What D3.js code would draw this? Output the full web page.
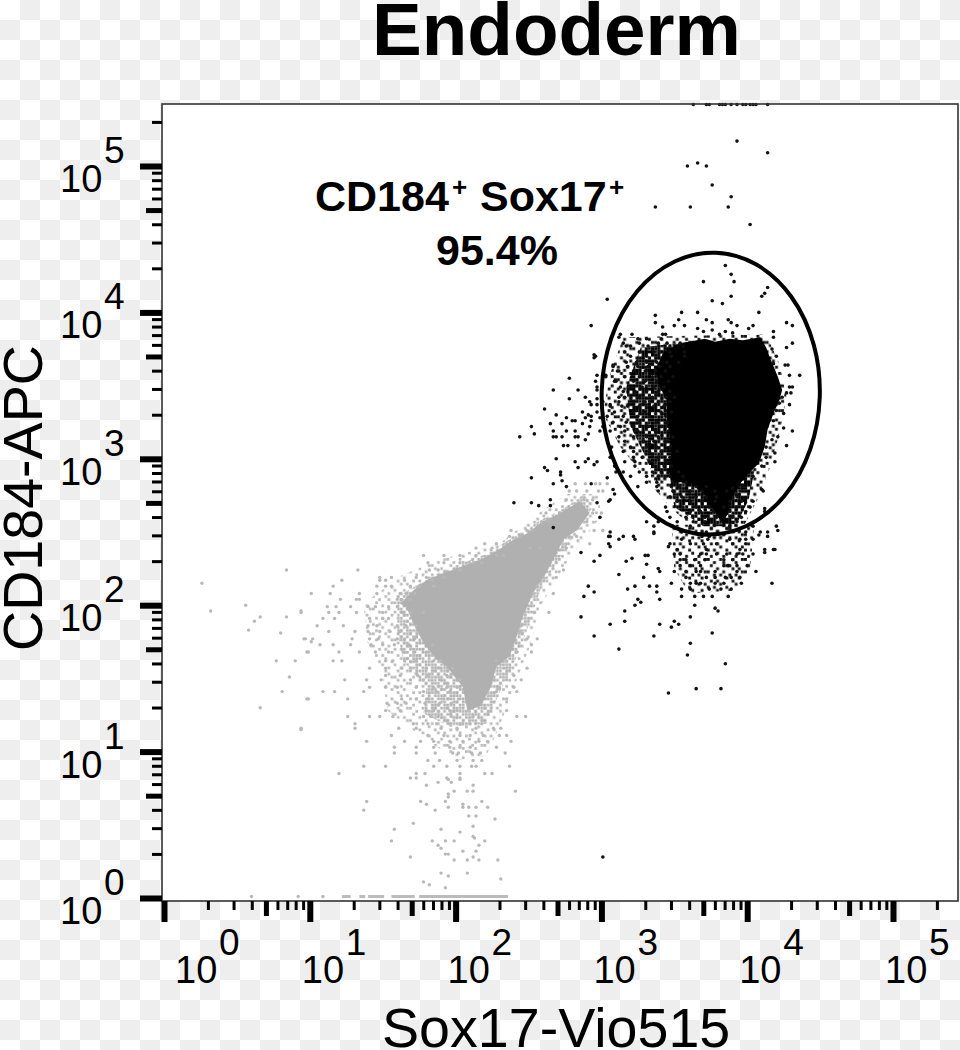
<!DOCTYPE html>
<html>
<head>
<meta charset="utf-8">
<script src="https://d3js.org/d3.v7.min.js"></script>
<style>
  html, body { margin: 0; padding: 0; background: #fff; }
  svg { display: block; }
  text { font-family: "Liberation Sans", Arial, sans-serif; fill: #000; }
</style>
</head>
<body>
<div id="plot"></div>
<script>
// All events are log10(fluorescence).
// Rows are [log10 CD184, [log10 Sox17, ...]]

var blackRows = [
  [5.42, [3.63,3.72,3.74,3.81,3.83,3.85,3.89,3.93,3.97,3.99,4.02,4.04,4.06,4.14]],
  [5.17, [3.93]], [5.09, [4.14]], [5.02, [3.66]], [5.00, [3.59,3.72]],
  [4.87, [3.76]], [4.79, [3.89]], [4.72, [3.37,3.61,3.87]], [4.60, [4.02]],
  [4.32, [3.85]], [4.26, [3.89]], [4.21, [3.70,3.91]], [4.17, [4.14]], [4.13, [4.12]],
  [4.11, [3.89,4.10]], [4.09, [3.04]], [4.08, [3.76]], [4.06, [3.83]],
  [4.00, [3.55,3.66,4.08]], [3.98, [3.37]], [3.95, [3.53,3.72,3.87]],
  [3.93, [3.37,3.76,3.89,4.27]], [3.91, [2.93,3.50,3.57,3.93,4.04,4.31]],
  [3.90, [3.42]], [3.89, [3.66,4.01]], [3.88, [3.76]], [3.87, [3.70,3.85,4.18]],
  [3.86, [3.90]], [3.85, [3.13,3.21,3.42,3.44,3.81]], [3.83, [3.12,4.18]],
  [3.82, [3.25,3.31,3.41]], [3.79, [3.15,3.26,3.39,3.45,3.54,4.31]],
  [3.77, [3.17,3.20,3.32,3.47,3.56]], [3.76, [4.27]], [3.75, [4.17]],
  [3.73, [3.16,3.26,3.36,3.40,3.47,3.57]], [3.71, [2.95]],
  [3.70, [2.96,3.20,3.31,3.48,3.57,4.20]], [3.69, [2.95]],
  [3.66, [3.17,3.24,3.31,3.38,3.45,3.53]], [3.65, [4.18]],
  [3.64, [3.08,4.26,4.28]], [3.63, [3.08,3.18,3.25,3.32,3.40,3.47]],
  [3.60, [3.11,3.12,3.22,3.30,3.37,3.44]], [3.57, [2.97,3.03,4.29,4.36]],
  [3.56, [3.03,3.16,3.26,3.35,3.41,3.49]], [3.55, [2.78]],
  [3.53, [2.96,3.09,3.10,3.22,3.30,3.38,3.46]],
  [3.49, [2.97,3.13,3.21,3.28,3.36,3.43,4.29,4.31]],
  [3.47, [2.67,2.84,2.97]], [3.46, [3.15,3.23,3.31,3.39,3.47]], [3.45, [4.27,4.30]],
  [3.42, [2.89,3.12,3.16,3.26,3.35,3.44,3.50,4.24]], [3.41, [2.78,2.97]],
  [3.39, [2.92,3.01,3.12,3.22,3.30,3.39,3.47]], [3.38, [4.22]], [3.37, [2.93,2.97,3.06,4.29]],
  [3.36, [3.06,3.14,3.18,3.26,3.36,3.43]], [3.34, [2.61]], [3.33, [4.20]],
  [3.32, [2.87,2.97,3.09,3.22,3.30,3.41,3.48]], [3.31, [4.25]],
  [3.30, [2.69,2.91]], [3.29, [2.93,3.04,3.15,3.25,3.33,3.44]], [3.28, [2.76,2.89,2.99]],
  [3.26, [2.80,2.82,2.93,4.18]], [3.25, [3.08,3.17,3.26,3.38,3.45]],
  [3.24, [2.65,2.73,2.87]], [3.22, [2.52,2.92,3.01,3.13,3.22,3.32,3.41]], [3.21, [4.25]],
  [3.19, [2.67,2.76,2.82,2.99,3.06,3.16,3.25,3.37,3.46,4.31]],
  [3.17, [2.54,2.91]], [3.15, [2.44,2.67,2.69,2.73,2.82,2.84,3.12,3.22,3.31,3.39,3.49,4.21]],
  [3.13, [2.89,4.17]], [3.12, [3.16,3.29,3.36,3.44]],
  [3.09, [2.74,2.77,2.84,4.27]], [3.08, [3.07,3.20,3.31,3.38,3.47,4.13]],
  [3.05, [3.15,3.22,3.33,3.41,3.52]], [3.04, [4.19]],
  [3.01, [3.06,3.22,3.28,3.39,3.47,4.13]], [3.00, [2.69,2.91]],
  [2.98, [2.82,2.89,2.97,3.16,3.23,3.33,3.44,4.19]], [2.96, [2.95]],
  [2.95, [3.09,3.23,3.36,3.43,3.48,4.10]], [2.94, [2.61,2.84]], [2.92, [2.63]],
  [2.91, [2.72,3.10,3.15,3.26,3.35,3.41,3.53]], [2.89, [2.72]],
  [2.88, [3.20,3.31,3.39,3.47,3.56,4.04]], [2.87, [2.52,3.04]], [2.85, [2.73]],
  [2.84, [3.31,3.38,3.49,3.58]], [2.83, [2.67,2.93]],
  [2.81, [2.76,3.25,3.38,3.48,3.53,3.65,3.72,3.97]], [2.80, [3.90]], [2.79, [3.08,4.10]],
  [2.78, [3.39,3.49,3.61,3.69,3.78,3.86,3.95,4.11]], [2.76, [3.09]], [2.75, [3.93]],
  [2.74, [3.47,3.55,3.65,3.72,3.79,3.93]], [2.72, [2.65,3.06]], [2.71, [3.05,3.52,3.61,3.69,3.78,3.88,3.96,4.04]],
  [2.70, [2.40,2.52,2.97]], [2.68, [2.57,2.65]],
  [2.67, [3.44,3.56,3.65,3.74,3.84,3.93,4.02]], [2.66, [4.12]],
  [2.64, [3.45,3.61,3.68,3.77,3.88,3.99,4.12]], [2.60, [2.99,3.47,3.58,3.71,3.79,3.90,3.96]],
  [2.57, [3.31,3.39,3.52,3.63,3.71,3.93]], [2.54, [3.36,3.49,3.61,3.88,4.04,4.20]],
  [2.53, [2.67]], [2.51, [4.21]], [2.50, [3.06,3.36,3.55,3.72,3.99,4.09,4.14]],
  [2.49, [3.36]], [2.48, [4.08]], [2.47, [3.05,3.06,3.15,3.22,3.69,3.74,4.14]],
  [2.45, [3.12,3.23,3.55,3.73,3.88,3.95,3.99,4.04]], [2.42, [3.05,3.47,3.61,3.70,3.79,3.90,3.99]],
  [2.40, [3.06,3.46]], [2.38, [3.52,3.72,3.95,4.12,4.18,4.19]], [2.36, [2.86,4.12]],
  [2.35, [3.50,3.54,3.68,3.72,3.79,3.86,3.93,3.97,4.04]], [2.34, [2.99,3.30,3.32]],
  [2.32, [3.21]], [2.31, [3.54,3.58,3.64,3.71,3.84,3.90]], [2.30, [2.95,3.17]], [2.28, [3.31]],
  [2.27, [3.54,3.61,3.68,3.84,3.87,3.93,4.00]], [2.25, [3.39]],
  [2.23, [3.40,3.50,3.58,3.65,3.68,3.78,3.93,4.06]], [2.21, [3.12]],
  [2.19, [3.29,3.58,3.72,3.78,3.85,3.89,3.95]], [2.15, [3.48,3.61,3.65,3.68,3.78,3.84,3.96,4.17]],
  [2.13, [2.91,3.23,3.33,3.38]], [2.11, [3.18,3.55,3.61,3.74,3.82,3.89]], [2.09, [2.95,3.38]],
  [2.06, [2.88,3.55,3.64,3.70,3.76,3.87]], [2.04, [3.25,3.40]], [2.02, [3.27]],
  [2.00, [3.23,3.64]], [1.98, [3.78]], [1.96, [3.16,3.80]], [1.92, [2.86,3.61]],
  [1.89, [3.16,3.50]], [1.87, [3.06,3.40,3.53]], [1.85, [3.48]], [1.81, [3.76]],
  [1.79, [2.95,3.36]], [1.74, [3.61]], [1.70, [3.12]], [1.66, [3.59]], [1.60, [3.85]],
  [1.43, [3.65,3.82]], [1.40, [3.46]], [0.28, [3.01]]
];

var greyRows = [
  [2.83, [2.82,2.89,2.96,2.99,3.04]], [2.78, [2.78,2.83,2.90,2.98,3.01]],
  [2.72, [2.76,2.88,2.94]], [2.63, [2.62,2.94,3.00]], [2.57, [2.59,2.64,2.90]],
  [2.51, [2.38,2.49,2.53,2.95,3.01]], [2.47, [2.37,2.44,2.78,2.83]],
  [2.42, [2.20,2.28,2.92]], [2.39, [2.14,2.25,2.51,2.58,2.76]],
  [2.34, [1.78,1.92,2.03,2.14,2.28,2.33]], [2.29, [1.81,1.92,2.03,2.12,2.18,2.69]],
  [2.24, [0.84,1.33,1.82,1.88,2.03,2.74]], [2.19, [1.48,1.56,1.73,1.80,1.92,2.69]],
  [2.17, [1.22,1.48,1.52,1.65,1.84]], [2.15, [0.26]], [2.13, [1.16,1.46,1.52,1.56,1.69,1.75,1.85,2.56]],
  [2.08, [1.01,1.14,1.34,1.46,1.62,1.66,1.72,2.53,2.67]], [2.04, [1.21,1.32,1.34,1.60,1.63,1.69]],
  [2.00, [0.56]], [1.99, [1.12,1.18,1.28,1.40,1.45,1.54,1.60]], [1.96, [0.32,0.94]],
  [1.95, [0.94,1.13,1.20,1.32,1.50,1.64,1.69,1.78,2.54,2.64]],
  [1.92, [0.66,0.84]], [1.91, [1.09,1.17,1.41,1.50,1.54]], [1.89, [0.62]],
  [1.86, [1.05,1.23,1.40,1.46,1.60,1.66,1.73,2.45]], [1.83, [0.58]],
  [1.82, [1.13,1.31,1.40,1.48,1.55,1.62,2.44]], [1.81, [0.80]],
  [1.77, [0.96,0.97,1.02,1.29,1.41,1.47,1.60,1.65,1.72,2.49,2.56]], [1.75, [1.01]],
  [1.73, [1.07,1.16,1.28,1.42,1.50,1.58,1.68,1.84,2.52]],
  [1.68, [0.98,0.99,1.20,1.34,1.45,1.54,1.64,1.72,1.80,2.42,2.52]],
  [1.62, [0.77,0.90,1.16,1.22,1.52,1.57,1.65,1.73,1.85,1.90,2.28,2.35]],
  [1.57, [1.41,1.52,1.63,1.69,1.80,1.90,1.98,2.33,2.49]],
  [1.52, [1.52,1.62,1.74,1.81,1.94,2.40]], [1.51, [0.86]],
  [1.49, [1.24,1.39,1.49,1.69,1.78,1.89,2.03,2.35,2.45]],
  [1.44, [1.41,1.52,1.60,1.73,1.85,1.94,2.01,2.30,2.40]],
  [1.41, [0.81,1.09,1.17,1.37,1.78,1.87,1.96,2.28,2.42]],
  [1.36, [0.98,0.99,1.26,1.63,1.73,1.81,1.92,2.02,2.35]],
  [1.33, [1.53,1.60,1.66,1.79,1.89,1.97]], [1.30, [0.66]],
  [1.28, [1.52,1.62,1.80,1.85,1.96,2.01,2.35]],
  [1.24, [1.26,1.41,1.48,1.57,1.78,1.83,1.88,1.97,2.12,2.42,2.48]],
  [1.19, [1.31,1.71,1.81,1.87,1.96,2.05,2.10,2.18]],
  [1.16, [0.94,1.31,1.61,1.73,1.90,2.01,2.14,2.26,2.31]], [1.15, [0.94]],
  [1.11, [1.56,1.81,1.92,2.03,2.10,2.19,2.30,2.35]],
  [1.07, [1.39,1.65,1.76,1.85,1.96,2.05,2.16,2.22,2.38]],
  [1.03, [1.58,1.73,1.85,1.96,2.03,2.10,2.28]],
  [0.99, [1.58,1.73,1.86,1.98,2.02,2.11,2.17,2.34]],
  [0.94, [1.81,1.89,2.01,2.12,2.18]], [0.90, [1.37,1.52,1.85,1.94,2.03,2.11,2.14,2.37]],
  [0.85, [1.20,1.73,1.79,2.03,2.20,2.25]], [0.82, [1.69,1.73,1.94,2.03]],
  [0.81, [1.95,2.03]], [0.79, [1.88,1.97]], [0.77, [1.80,2.12]],
  [0.73, [1.99,2.08,2.12,2.41]], [0.71, [1.95]], [0.69, [1.95]],
  [0.66, [1.39,1.76,1.93,2.18]], [0.64, [1.80,2.05]], [0.62, [1.95,2.05,2.09,2.14,2.22]],
  [0.60, [1.37,1.86]], [0.56, [2.09,2.14]], [0.54, [2.27]], [0.51, [1.71]], [0.49, [2.12]],
  [0.47, [1.58,1.90]], [0.45, [2.03]], [0.42, [2.12]], [0.41, [2.13]],
  [0.39, [1.56,1.84,1.93,1.99,2.20]], [0.36, [1.88,2.16]], [0.34, [1.90]],
  [0.32, [2.05,2.14]], [0.30, [1.93,1.95]], [0.28, [1.69,2.12]],
  [0.26, [1.99,2.08,2.16,2.29]], [0.17, [1.90,2.08]], [0.15, [1.95]], [0.13, [2.31]],
  [0.11, [1.78]], [0.09, [1.82]], [0.07, [1.93]],
  [0.01, [0.60,0.92,1.09]]
];

// Solid regions where events overlap completely, [log10 Sox17, log10 CD184]
var blackCore = [
  [3.60,3.80],[3.71,3.82],[3.78,3.80],[3.88,3.82],[3.97,3.81],[4.09,3.83],[4.13,3.76],
  [4.16,3.68],[4.21,3.56],[4.24,3.47],[4.22,3.40],[4.18,3.31],[4.14,3.20],[4.12,3.08],
  [4.08,2.97],[4.01,2.90],[3.95,2.83],[3.90,2.74],[3.87,2.63],[3.83,2.56],[3.77,2.65],
  [3.70,2.76],[3.61,2.84],[3.49,2.84],[3.46,2.92],[3.48,3.04],[3.47,3.15],[3.45,3.26],
  [3.45,3.40],[3.40,3.49],[3.37,3.60],[3.42,3.72],[3.52,3.78]
];
var greyCore = [
  [2.85,2.71],[2.92,2.63],[2.83,2.51],[2.74,2.45],[2.69,2.35],[2.62,2.22],[2.53,2.08],
  [2.46,1.92],[2.42,1.79],[2.37,1.65],[2.28,1.58],[2.24,1.44],[2.17,1.31],[2.08,1.28],
  [2.05,1.44],[1.94,1.58],[1.87,1.63],[1.78,1.74],[1.71,1.88],[1.66,1.99],[1.62,2.01],
  [1.71,2.10],[1.80,2.17],[1.92,2.22],[2.03,2.26],[2.17,2.31],[2.30,2.38],[2.40,2.45],
  [2.49,2.49],[2.58,2.56],[2.72,2.63]
];

// Speckled regions around the solid ones: busy (most bins taken) and thin
var blackBusy = [
  [3.27,3.76],[3.61,3.80],[3.61,3.58],[3.52,2.90],[3.38,2.84],[3.29,3.04],[3.20,3.22],[3.17,3.49]
];
var blackLobe = [
  [3.47,2.88],[4.05,2.92],[4.01,2.72],[3.92,2.54],[3.70,2.54],[3.50,2.67]
];
var blackThin = [
  [3.15,3.83],[3.61,3.84],[4.13,3.85],[4.22,3.65],[4.27,3.42],[4.22,3.17],[4.16,2.95],
  [4.07,2.72],[3.95,2.49],[3.72,2.45],[3.47,2.67],[3.31,2.86],[3.13,3.08],[3.01,3.31],[3.06,3.58]
];
var blackFoot = [
  [3.48,2.55],[4.05,2.55],[4.02,2.25],[3.92,2.10],[3.60,2.08],[3.50,2.25]
];
var greyBusy = [
  [1.60,2.06],[1.92,2.24],[2.21,2.35],[2.40,2.47],[2.58,2.58],[2.76,2.67],[2.88,2.76],
  [2.94,2.67],[2.76,2.40],[2.58,2.10],[2.49,1.83],[2.42,1.65],[2.30,1.40],[2.21,1.19],
  [1.96,1.17],[1.78,1.26],[1.80,1.44],[1.64,1.62],[1.60,1.81]
];
var greyThin = [
  [1.37,2.01],[1.62,2.20],[1.89,2.31],[2.30,2.42],[2.53,2.60],[2.76,2.76],[2.99,2.76],
  [2.99,2.60],[2.74,2.26],[2.58,1.99],[2.51,1.72],[2.40,1.44],[2.30,1.17],[2.21,0.97],
  [2.01,0.94],[1.80,1.08],[1.53,1.28],[1.50,1.53],[1.39,1.76]
];

// Events piled up on the bottom edge, [from, to] in log10 Sox17
var greyPile = [[1.22,1.28],[1.34,1.38],[1.40,1.51],[1.56,1.72],[1.75,2.36]];

var gateCenter = [3.75, 3.445];
var gateRadius = [0.748, 0.963];

var majorTicks = [1e0,1e1,1e2,1e3,1e4,1e5];
var midTicks = [5e0,5e1,5e2,5e3,5e4];
var minorTicks = [2,3,4,6,7,8,9,20,30,40,60,70,80,90,200,300,400,600,700,800,900,
  2e3,3e3,4e3,6e3,7e3,8e3,9e3,2e4,3e4,4e4,6e4,7e4,8e4,9e4,2e5];
var tickExponents = [0,1,2,3,4,5];

// which bins of the speckle tile are taken
var packedBins = [
  "111101111011","101111010111","110111101101","011101111110",
  "111010111011","101111101111","110110111010","111101011111",
  "011111110101","110101101111","101111011011","111011110110"
];
var busyBins = [
  "101101011010","011010110101","110101001110","001110110011",
  "101001011101","110110100110","010011011011","101101110100",
  "011100101011","110011010110","001101101001","101010011101"
];
var thinBins = [
  "100010001001","001001000100","010000110000","000100001010",
  "100001000001","001010010100","000000100010","010100001000",
  "000010000101","101000100000","000100010010","010001000100"
];

var width = 960, height = 1050;
var frame = {top: 104, right: 958, bottom: 901, left: 162};
var binSize = 3.1;

var x = d3.scaleLog().domain([1, 1e5]).range([164, 893]);
var y = d3.scaleLog().domain([1, 1e5]).range([898, 166]);
var px = function(v) { return x(Math.pow(10, v)); };
var py = function(v) { return y(Math.pow(10, v)); };

var svg = d3.select("#plot").append("svg")
    .attr("width", width)
    .attr("height", height);
var defs = svg.append("defs");

// transparent-png checks behind the figure
var checks = defs.append("pattern")
    .attr("id", "checks")
    .attr("width", 40).attr("height", 40)
    .attr("patternUnits", "userSpaceOnUse");
checks.append("rect").attr("width", 40).attr("height", 40).attr("fill", "#fff");
checks.append("rect").attr("x", 20).attr("width", 20).attr("height", 20).attr("fill", "#eee");
checks.append("rect").attr("y", 20).attr("width", 20).attr("height", 20).attr("fill", "#eee");
svg.append("rect").attr("width", width).attr("height", height).attr("fill", "url(#checks)");

svg.append("rect")
    .attr("x", frame.left).attr("y", frame.top)
    .attr("width", frame.right - frame.left).attr("height", frame.bottom - frame.top)
    .attr("fill", "#fff");

function speckle(id, bins, colour, gap) {
    var tile = defs.append("pattern")
        .attr("id", id)
        .attr("width", bins[0].length * binSize).attr("height", bins.length * binSize)
        .attr("patternUnits", "userSpaceOnUse");
    bins.forEach(function(row, j) {
        row.split("").forEach(function(b, i) {
            if (b == "1") {
                tile.append("rect")
                    .attr("x", i * binSize).attr("y", j * binSize)
                    .attr("width", binSize - gap).attr("height", binSize - gap)
                    .attr("fill", colour);
            }
        });
    });
}
speckle("greyBusyFill", busyBins, "#b2b2b2", 0.4);
speckle("greyThinFill", thinBins, "#b8b8b8", 0.4);
speckle("blackPackedFill", packedBins, "#000", 0);
speckle("blackThinFill", thinBins, "#111", 0.2);

function flatten(rows) {
    var out = [];
    rows.forEach(function(r) {
        r[1].forEach(function(v) { out.push([v, r[0]]); });
    });
    return out;
}

var region = d3.line()
    .x(function(d) { return px(d[0]); })
    .y(function(d) { return py(d[1]); });

function drawRegion(pts, fill) {
    svg.append("path").attr("d", region(pts) + "Z").attr("fill", fill);
}

// grey (negative) population
drawRegion(greyThin, "url(#greyThinFill)");
drawRegion(greyBusy, "url(#greyBusyFill)");
drawRegion(greyCore, "#b0b0b0");
svg.append("g").selectAll("line")
    .data(greyPile).enter().append("line")
    .attr("x1", function(d) { return px(d[0]); })
    .attr("x2", function(d) { return px(d[1]); })
    .attr("y1", py(0.01)).attr("y2", py(0.01))
    .attr("stroke", "#bbb").attr("stroke-width", 3);
svg.append("g").selectAll("circle")
    .data(flatten(greyRows)).enter().append("circle")
    .attr("cx", function(d) { return px(d[0]); })
    .attr("cy", function(d) { return py(d[1]); })
    .attr("r", 1.7)
    .attr("fill", "#b8b8b8");

// black (gated) population
drawRegion(blackFoot, "url(#blackThinFill)");
drawRegion(blackThin, "url(#blackThinFill)");
drawRegion(blackBusy, "url(#blackPackedFill)");
drawRegion(blackLobe, "url(#blackPackedFill)");
drawRegion(blackCore, "#000");
svg.append("g").selectAll("circle")
    .data(flatten(blackRows)).enter().append("circle")
    .attr("cx", function(d) { return px(d[0]); })
    .attr("cy", function(d) { return py(d[1]); })
    .attr("r", 1.8)
    .attr("fill", "#111");

// gate
var cx = px(gateCenter[0]), cy = py(gateCenter[1]);
svg.append("ellipse")
    .attr("cx", cx).attr("cy", cy)
    .attr("rx", px(gateCenter[0] + gateRadius[0]) - cx)
    .attr("ry", cy - py(gateCenter[1] + gateRadius[1]))
    .attr("transform", "rotate(2 " + cx + " " + cy + ")")
    .attr("fill", "none").attr("stroke", "#000").attr("stroke-width", 4);

svg.append("rect")
    .attr("x", frame.left).attr("y", frame.top)
    .attr("width", frame.right - frame.left).attr("height", frame.bottom - frame.top)
    .attr("fill", "none").attr("stroke", "#333").attr("stroke-width", 1.6);

// ticks
function drawTicks(axis, scale, values, size, thick, transform) {
    var g = svg.append("g")
        .attr("transform", transform)
        .call(axis(scale).tickValues(values).tickSize(size).tickFormat(""));
    g.select(".domain").remove();
    g.selectAll("line").attr("stroke", "#000").attr("stroke-width", thick);
}
var bottomAt = "translate(0," + frame.bottom + ")";
var leftAt = "translate(" + frame.left + ",0)";
drawTicks(d3.axisBottom, x, minorTicks, 9, 3, bottomAt);
drawTicks(d3.axisBottom, x, midTicks, 15, 5, bottomAt);
drawTicks(d3.axisBottom, x, majorTicks, 21, 6, bottomAt);
drawTicks(d3.axisLeft, y, minorTicks, 10, 3, leftAt);
drawTicks(d3.axisLeft, y, midTicks, 16, 5, leftAt);
drawTicks(d3.axisLeft, y, majorTicks, 22, 6, leftAt);

// tick labels
tickExponents.forEach(function(e, i) {
    var tx = x(majorTicks[i]) + (i == 0 ? 11 : -8);
    svg.append("text").attr("x", tx).attr("y", 983).style("font-size", "38px").text("10");
    svg.append("text").attr("x", tx + 44).attr("y", 955).style("font-size", "37px").text(e);

    var ty = y(majorTicks[i]);
    svg.append("text").attr("x", 60).attr("y", ty + 26).style("font-size", "38px").text("10");
    svg.append("text").attr("x", 104).attr("y", ty - 3).style("font-size", "37px").text(e);
});

// titles
svg.append("text")
    .attr("x", 372).attr("y", 55)
    .style("font-size", "74.6px").style("font-weight", "bold")
    .text("Endoderm");
svg.append("text")
    .attr("x", 382).attr("y", 1047)
    .style("font-size", "55.6px")
    .text("Sox17-Vio515");
svg.append("text")
    .attr("transform", "translate(42,651) rotate(-90)")
    .style("font-size", "55.6px")
    .text("CD184-APC");

// gate annotation
var note = svg.append("g").style("font-weight", "bold");
note.append("text").attr("x", 315).attr("y", 211).style("font-size", "43px").text("CD184");
note.append("text").attr("x", 452).attr("y", 196).style("font-size", "26px").text("+");
note.append("text").attr("x", 480).attr("y", 211).style("font-size", "43px").text("Sox17");
note.append("text").attr("x", 609).attr("y", 196).style("font-size", "26px").text("+");
note.append("text").attr("x", 436).attr("y", 265).style("font-size", "43px").text("95.4%");
</script>
</body>
</html>
